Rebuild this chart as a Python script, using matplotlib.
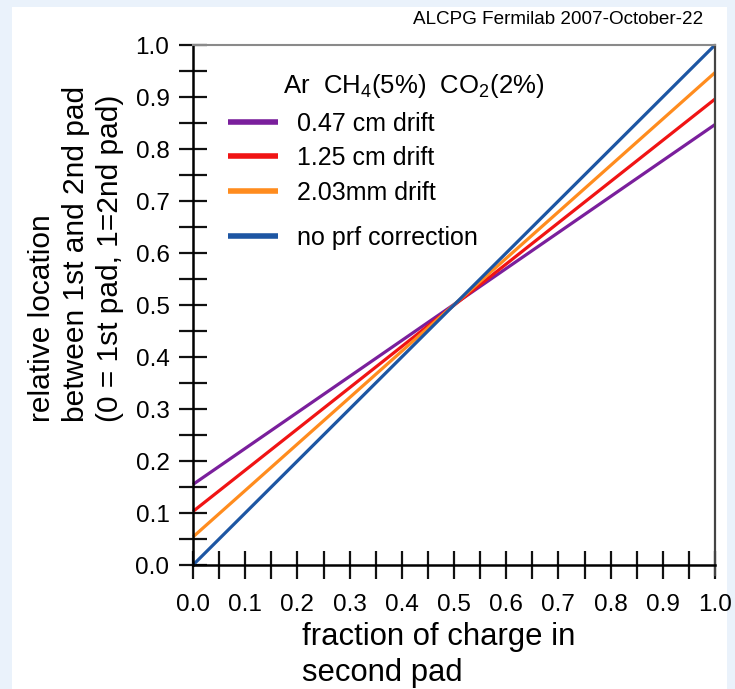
import matplotlib
matplotlib.use('Agg')
import matplotlib.pyplot as plt
from matplotlib.patches import Rectangle

plt.rcParams['font.family'] = ['Liberation Sans', 'DejaVu Sans']
plt.rcParams['mathtext.fontset'] = 'custom'
plt.rcParams['mathtext.rm'] = 'Liberation Sans'
plt.rcParams['mathtext.it'] = 'Liberation Sans'

# daten: gerade linien durch (0.5, 0.5)
x_vals = [0.0, 1.0]
purple_y = [0.155, 0.847]
red_y = [0.103, 0.896]
orange_y = [0.054, 0.947]
blue_y = [0.0, 1.0]

labels = ['0.47 cm drift', '1.25 cm drift', '2.03mm drift', 'no prf correction']
colors = ['#7a1f9c', '#f01414', '#ff8c1e', '#1d56a3']
tick_labels = ['0.0', '0.1', '0.2', '0.3', '0.4', '0.5', '0.6', '0.7', '0.8', '0.9', '1.0']

fig = plt.figure(figsize=(7.35, 6.89), dpi=100)
fig.patch.set_facecolor('#eaf2fb')
fig.patches.append(Rectangle((12 / 735, 0), 715 / 735, 682 / 689,
                             transform=fig.transFigure, facecolor='white',
                             edgecolor='none', zorder=-10))

ax = fig.add_axes([193 / 735, 124 / 689, 522 / 735, 520 / 689])
ax.set_facecolor('none')
ax.set_zorder(1)

series = [purple_y, red_y, orange_y, blue_y]
handles = []
for ys, c, lab in zip(series, colors, labels):
    h, = ax.plot(x_vals, ys, color=c, lw=2.3, label=lab, solid_capstyle='butt', clip_on=False)
    handles.append(h)

ax.set_xlim(0, 1)
ax.set_ylim(0, 1)

ticks = [i / 10 for i in range(11)]
ax.set_xticks(ticks)
ax.set_xticklabels(tick_labels)
ax.set_yticks(ticks)
ax.set_yticklabels(tick_labels)
ax.set_xticks([i / 20 for i in range(1, 20, 2)], minor=True)
ax.set_yticks([i / 20 for i in range(1, 20, 2)], minor=True)
ax.tick_params(which='both', direction='inout', length=20, width=1.6, color='#111111')
ax.tick_params(which='major', labelsize=17.5)
ax.tick_params(axis='y', which='major', pad=7)
ax.tick_params(axis='x', which='major', pad=11)

ax.spines['left'].set_linewidth(1.8)
ax.spines['bottom'].set_linewidth(1.8)
ax.spines['top'].set_color('#8a8a8a')
ax.spines['top'].set_linewidth(1.5)
ax.spines['right'].set_color('#444444')
ax.spines['right'].set_linewidth(1.6)
ax.spines['right'].set_bounds(-0.02, 1.0)

# achsenbeschriftung x (linksbuendig, zwei zeilen)
fig.text(302 / 735, 1 - 645 / 689, 'fraction of charge in', fontsize=22.3,
         ha='left', va='baseline')
fig.text(302 / 735, 1 - 681 / 689, 'second pad', fontsize=22.3,
         ha='left', va='baseline')

# achsenbeschriftung y
fig.text(76 / 735, 1 - 422 / 689,
         'relative location\nbetween 1st and 2nd pad\n(0 = 1st pad, 1=2nd pad)',
         rotation=90, ha='center', va='bottom', multialignment='left',
         fontsize=21.5, linespacing=1.25)

ax.text(0.173, 0.922, r'Ar  CH$_4$(5%)  CO$_2$(2%)', transform=ax.transAxes,
        fontsize=18.5, ha='left', va='center')
leg1 = ax.legend(handles=handles[:3], loc='upper left', bbox_to_anchor=(0.068, 0.872),
                 frameon=False, fontsize=18, handlelength=2.0, handletextpad=0.75,
                 labelspacing=0.42, borderpad=0, borderaxespad=0)
ax.add_artist(leg1)
leg2 = ax.legend(handles=handles[3:], loc='upper left', bbox_to_anchor=(0.068, 0.652),
                 frameon=False, fontsize=18, handlelength=2.0, handletextpad=0.75,
                 borderpad=0, borderaxespad=0)
for leg in (leg1, leg2):
    for line in leg.get_lines():
        line.set_linewidth(4)

fig.text(703 / 735, 1 - 20 / 689, 'ALCPG Fermilab 2007-October-22',
         ha='right', va='center', fontsize=13.6)

fig.savefig('out.png', dpi=100, facecolor=fig.get_facecolor())
